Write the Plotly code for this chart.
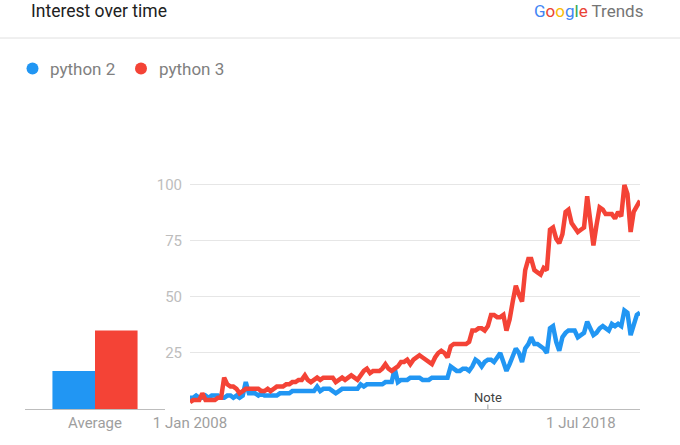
import plotly.graph_objects as go
import pandas as pd

# monthly Google Trends interest, Jan 2008 .. Feb 2020
start_month = "2008-01-01"
python2 = [
    5, 5, 6, 5, 5, 6, 5, 6, 6, 6, 5, 5,
    6, 6, 5, 6, 5, 6, 12, 7, 7, 7, 6, 7,
    6, 6, 6, 6, 6, 7, 7, 7, 7, 8, 8, 8,
    8, 8, 8, 8, 8, 10, 8, 9, 9, 9, 8, 7,
    8, 9, 9, 9, 9, 9, 9, 11, 10, 11, 11, 11,
    11, 11, 11, 12, 12, 12, 18, 12, 13, 13, 13, 14,
    14, 14, 14, 13, 13, 13, 14, 14, 14, 14, 14, 14,
    19, 18, 17, 17, 18, 18, 17, 19, 22, 21, 19, 21,
    22, 22, 21, 23, 25, 21, 17, 20, 23, 27, 25, 21,
    27, 29, 32, 29, 29, 28, 27, 25, 36, 37, 30, 26,
    32, 34, 35, 35, 35, 32, 33, 34, 39, 36, 33, 34,
    36, 37, 36, 35, 38, 37, 38, 37, 44, 43, 33, 38,
    42, 43,
]
python3 = [
    3, 4, 4, 4, 7, 4, 4, 4, 4, 5, 5, 14,
    11, 10, 10, 9, 7, 8, 9, 9, 9, 9, 9, 8,
    8, 9, 8, 9, 10, 10, 10, 11, 11, 12, 12, 13,
    13, 15, 13, 12, 13, 14, 13, 14, 14, 14, 14, 12,
    13, 14, 13, 14, 15, 14, 13, 15, 17, 18, 16, 17,
    17, 17, 18, 20, 18, 17, 18, 19, 21, 21, 22, 20,
    22, 23, 24, 23, 22, 21, 20, 23, 25, 26, 25, 23,
    28, 29, 29, 29, 29, 29, 30, 35, 35, 36, 36, 35,
    37, 42, 42, 41, 41, 42, 35, 40, 48, 55, 51, 48,
    62, 67, 67, 62, 61, 60, 63, 62, 80, 81, 76, 74,
    78, 88, 89, 83, 81, 79, 80, 81, 95, 85, 73, 82,
    90, 89, 87, 87, 87, 85, 88, 86, 100, 96, 79, 88,
    91, 93,
]
series_names = ["python 2", "python 3"]
averages = [17, 35]
avg_label = "Average"

x_tick_dates = ["2008-01-01", "2018-07-01"]
x_tick_text = ["1 Jan 2008", "1 Jul 2018"]
y_ticks = [25, 50, 75, 100]
note_date = "2016-01-01"

BLUE = "#2196f3"
RED = "#f44336"
colors = [BLUE, RED]

W, H = 680, 445
FONT = "Roboto"

months = pd.date_range(start_month, periods=len(python2), freq="MS")


def fx(px):
    return px / W


def fy(px):
    return 1 - px / H


fig = go.Figure()

for name, vals, col in zip(series_names, [python2, python3], colors):
    fig.add_trace(go.Scatter(x=months, y=vals, name=name, mode="lines",
                             line=dict(color=col, width=4.5),
                             xaxis="x", yaxis="y", showlegend=False))

# average bars
for i, (name, val, col) in enumerate(zip(series_names, averages, colors)):
    fig.add_trace(go.Bar(x=[avg_label], y=[val], name=name, width=0.304,
                         offset=-0.304 + i * 0.304, marker=dict(color=col, line=dict(width=0)),
                         xaxis="x2", yaxis="y2", showlegend=False))

y_dom = [fy(409), fy(176)]

fig.update_layout(
    width=W, height=H,
    margin=dict(l=0, r=0, t=0, b=0, pad=0, autoexpand=False),
    paper_bgcolor="white", plot_bgcolor="white",
    font=dict(family=FONT),
    barmode="overlay",
    hovermode=False,
    xaxis=dict(domain=[fx(190), fx(640)], type="date",
               range=[months[0], months[-1]],
               tickvals=x_tick_dates, ticktext=x_tick_text, ticks="",
               tickfont=dict(size=15, color="#9e9e9e"),
               showline=True, linecolor="#bdbdbd", linewidth=1,
               showgrid=False, zeroline=False, anchor="y", automargin=False),
    yaxis=dict(domain=y_dom, range=[0, 104], tickvals=y_ticks,
               tickfont=dict(size=15, color="#bdbdbd"),
               gridcolor="#e6e6e6", gridwidth=1, showline=False,
               zeroline=False, ticklabelstandoff=7, anchor="x", automargin=False),
    xaxis2=dict(domain=[fx(25), fx(165)], type="category", range=[-0.5, 0.5],
                ticks="", tickfont=dict(size=15, color="#9e9e9e"),
                showline=True, linecolor="#bdbdbd", linewidth=1,
                showgrid=False, zeroline=False, anchor="y2", automargin=False),
    yaxis2=dict(domain=y_dom, range=[0, 104], visible=False, anchor="x2",
                automargin=False),
)

# header
fig.add_annotation(text="Interest over time", xref="paper", yref="paper",
                   x=fx(30), y=1, xanchor="left", yanchor="top", borderpad=0,
                   showarrow=False, font=dict(size=17.5, color="#212121"))
google = ('<span style="color:#4285F4">G</span><span style="color:#EA4335">o</span>'
          '<span style="color:#FBBC05">o</span><span style="color:#4285F4">g</span>'
          '<span style="color:#34A853">l</span><span style="color:#EA4335">e</span>'
          ' <span style="color:#757575">Trends</span>')
fig.add_annotation(text=google, xref="paper", yref="paper",
                   x=fx(644), y=1, xanchor="right", yanchor="top", borderpad=0,
                   showarrow=False, font=dict(size=17))
fig.add_shape(type="line", xref="paper", yref="paper", x0=0, x1=1,
              y0=fy(38), y1=fy(38), line=dict(color="#e0e0e0", width=1))

# legend
legend_pos = [(32.5, 48), (141, 157)]
for name, col, (dot_x, text_x) in zip(series_names, colors, legend_pos):
    fig.add_shape(type="circle", xref="paper", yref="paper",
                  xsizemode="pixel", ysizemode="pixel",
                  xanchor=fx(dot_x), yanchor=fy(68.5),
                  x0=-6, x1=6, y0=-6, y1=6,
                  fillcolor=col, line=dict(width=0))
    fig.add_annotation(text=name, xref="paper", yref="paper",
                       x=fx(text_x), y=fy(68.5), xanchor="left", yanchor="middle",
                       showarrow=False, font=dict(size=17, color="#808080"))

# note marker
fig.add_shape(type="line", xref="x", yref="y", x0=note_date, x1=note_date,
              y0=0, y1=2, line=dict(color="#9e9e9e", width=1))
fig.add_annotation(text="Note", xref="x", yref="y", x=note_date, y=0,
                   yshift=12, showarrow=False, font=dict(size=13, color="#424242"))

fig.write_html("out.html", config={"displayModeBar": False},
               post_script="document.body.style.margin='0';")
